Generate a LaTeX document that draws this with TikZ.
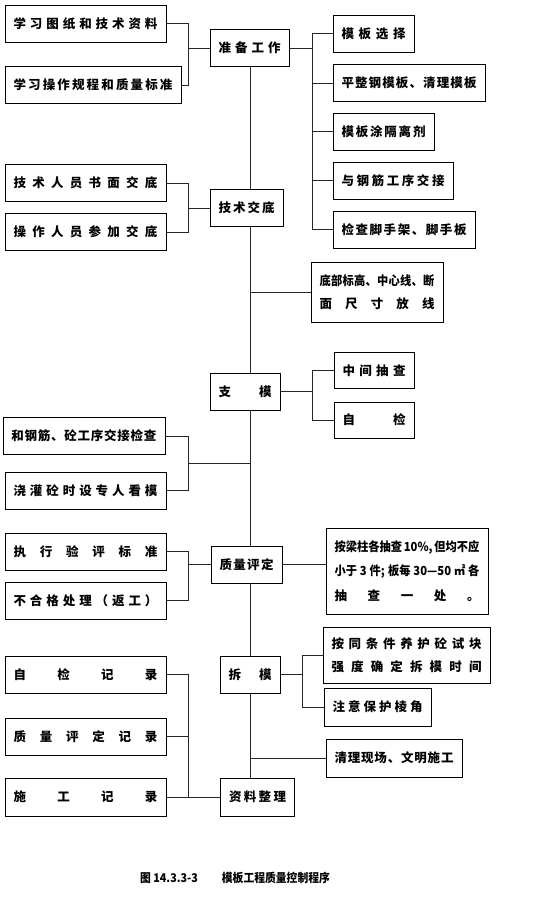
\documentclass[tikz,border=0pt]{standalone}
\usepackage{fontspec}
\setmainfont{Noto Sans CJK SC}
\usepackage{tikz}

\newcommand\spreadtext[2]{\makebox[#1pt][s]{\spreadfirst#2\relax}}
\def\spreadfirst#1{\ifx\relax#1\else#1\expandafter\spreadnext\fi}
\def\spreadnext#1{\ifx\relax#1\else\hfill#1\expandafter\spreadnext\fi}
\newcommand\narrowtext{\addfontfeatures{FakeStretch=0.9}}

\begin{document}
\begin{tikzpicture}[x=1pt,y=-1pt,
    box/.style={draw,line width=0.8pt,inner xsep=8.5pt,inner ysep=0pt,minimum height=37pt,align=center,
      font=\bfseries\fontsize{12.5}{23}\selectfont},
    link/.style={draw=black!85,line width=0.8pt}]
    \useasboundingbox (0,0) rectangle (554,898);
    \coordinate (lb) at (188,0);
    \coordinate (rb) at (312,0);
    \coordinate (kb) at (302,0);
    \coordinate (sp) at (250,0);

    \node[box] (L1) at (85.5,23.5) {\spreadtext{144}{学习图纸和技术资料}};
    \node[box] (L2) at (93,85) {\spreadtext{159}{学习操作规程和质量标准}};
    \node[box] (P) at (249.5,48) {\spreadtext{62}{准备工作}};
    \node[box] (R1) at (373.5,33.5) {\spreadtext{64}{模板选择}};
    \node[box] (R2) at (409,83) {\spreadtext{135}{平整钢模板、清理模板}};
    \node[box] (R3) at (383.5,131.5) {\spreadtext{84}{模板涂隔离剂}};
    \node[box] (R4) at (393,180.5) {\spreadtext{103}{与钢筋工序交接}};
    \node[box] (R5) at (404,229.5) {\spreadtext{125}{检查脚手架、脚手板}};
    \node[box] (J) at (246.5,208) {\spreadtext{56}{技术交底}};
    \node[box] (L3) at (85.5,183) {\spreadtext{144}{技术人员书面交底}};
    \node[box] (L4) at (85.5,232) {\spreadtext{144}{操作人员参加交底}};
    \node[box,minimum height=60pt] (D) at (377,292) {{\narrowtext\spreadtext{115}{底部标高、中心线、断}}\\\spreadtext{115}{面尺寸放线}};
    \node[box] (W) at (245,391.5) {\spreadtext{53}{支模}};
    \node[box,minimum height=36pt] (M1) at (374,370.5) {\spreadtext{63}{中间抽查}};
    \node[box,minimum height=36pt] (M2) at (374,420) {\spreadtext{63}{自检}};
    \node[box] (C1) at (84,436) {\spreadtext{145}{和钢筋、砼工序交接检查}};
    \node[box] (C2) at (85.5,490.5) {\spreadtext{144}{浇灌砼时设专人看模}};
    \node[box] (Q) at (246.5,564.5) {\spreadtext{54}{质量评定}};
    \node[box] (E1) at (85.5,551.5) {\spreadtext{144}{执行验评标准}};
    \node[box] (E2) at (85.5,600.5) {\spreadtext{144}{不合格处理（返工）}};
    \node[box,minimum height=86pt,font=\bfseries\fontsize{12.5}{24.5}\selectfont] (N) at (407,571)
        {{\narrowtext\makebox[145pt][s]{按梁柱各抽查 10\%, 但均不应}}\\{\narrowtext\makebox[145pt][s]{小于 3 件; 板每 30—50 ㎡ 各}}\\\spreadtext{145}{抽查一处。}};
    \node[box] (K) at (250,674.5) {\spreadtext{43}{拆模}};
    \node[box,minimum height=56pt] (T1) at (406.5,655) {\spreadtext{150}{按同条件养护砼试块}\\\spreadtext{150}{强度确定拆模时间}};
    \node[box,minimum height=38pt] (T2) at (377.5,707) {\spreadtext{90}{注意保护棱角}};
    \node[box,minimum height=38pt] (X) at (394,758) {\spreadtext{119}{清理现场、文明施工}};
    \node[box,minimum height=38pt] (Z) at (257.5,797) {\spreadtext{57}{资料整理}};
    \node[box] (S1) at (85.5,674.5) {\spreadtext{144}{自检记录}};
    \node[box] (S2) at (85.5,736.5) {\spreadtext{144}{质量评定记录}};
    \node[box,minimum height=38pt] (S3) at (85.5,797) {\spreadtext{144}{施工记录}};

    \draw[link] (L1.east) -- (L1.east -| lb) -- (L2.east -| lb) -- (L2.east);
    \draw[link] (P.west) -- (P.west -| lb);
    \draw[link] (P.east) -- (P.east -| rb);
    \draw[link] (R1.west) -- (R1.west -| rb) -- (R5.west -| rb) -- (R5.west);
    \foreach \n in {R2,R3,R4}
        \draw[link] (\n.west) -- (\n.west -| rb);
    \draw[link] (L3.east) -- (L3.east -| lb) -- (L4.east -| lb) -- (L4.east);
    \draw[link] (J.west) -- (J.west -| lb);

    \draw[link] (P.south -| sp) -- (J.north -| sp);
    \draw[link] (J.south -| sp) -- (W.north -| sp);
    \draw[link] (D.west) -- (D.west -| sp);

    \draw[link] (W.east) -- (W.east -| rb);
    \draw[link] (M1.west) -- (M1.west -| rb) -- (M2.west -| rb) -- (M2.west);

    \coordinate (cj) at (188,463);
    \draw[link] (C1.east) -- (C1.east -| lb) -- (C2.east -| lb) -- (C2.east);
    \draw[link] (cj) -- (cj -| sp);
    \draw[link] (W.south -| sp) -- (Q.north -| sp);

    \draw[link] (E1.east) -- (E1.east -| lb) -- (E2.east -| lb) -- (E2.east);
    \draw[link] (Q.west) -- (Q.west -| lb);
    \draw[link] (Q.east) -- (Q.east -| N.west);

    \draw[link] (Q.south -| sp) -- (K.north -| sp);
    \draw[link] (K.east) -- (K.east -| kb);
    \draw[link] (T1.west) -- (T1.west -| kb) -- (T2.west -| kb) -- (T2.west);

    \draw[link] (K.south -| sp) -- (Z.north -| sp);
    \draw[link] (X.west) -- (X.west -| sp);

    \draw[link] (S1.east) -- (S1.east -| lb) -- (S3.east -| lb) -- (S3.east);
    \draw[link] (S2.east) -- (S2.east -| lb);
    \draw[link] (Z.west) -- (Z.west -| lb);

    \node[font=\bfseries\fontsize{12}{13}\selectfont\addfontfeatures{FakeStretch=0.9}] (cap) at (235,878) {图 14.3.3-3\hspace{2em}模板工程质量控制程序};
\end{tikzpicture}
\end{document}
